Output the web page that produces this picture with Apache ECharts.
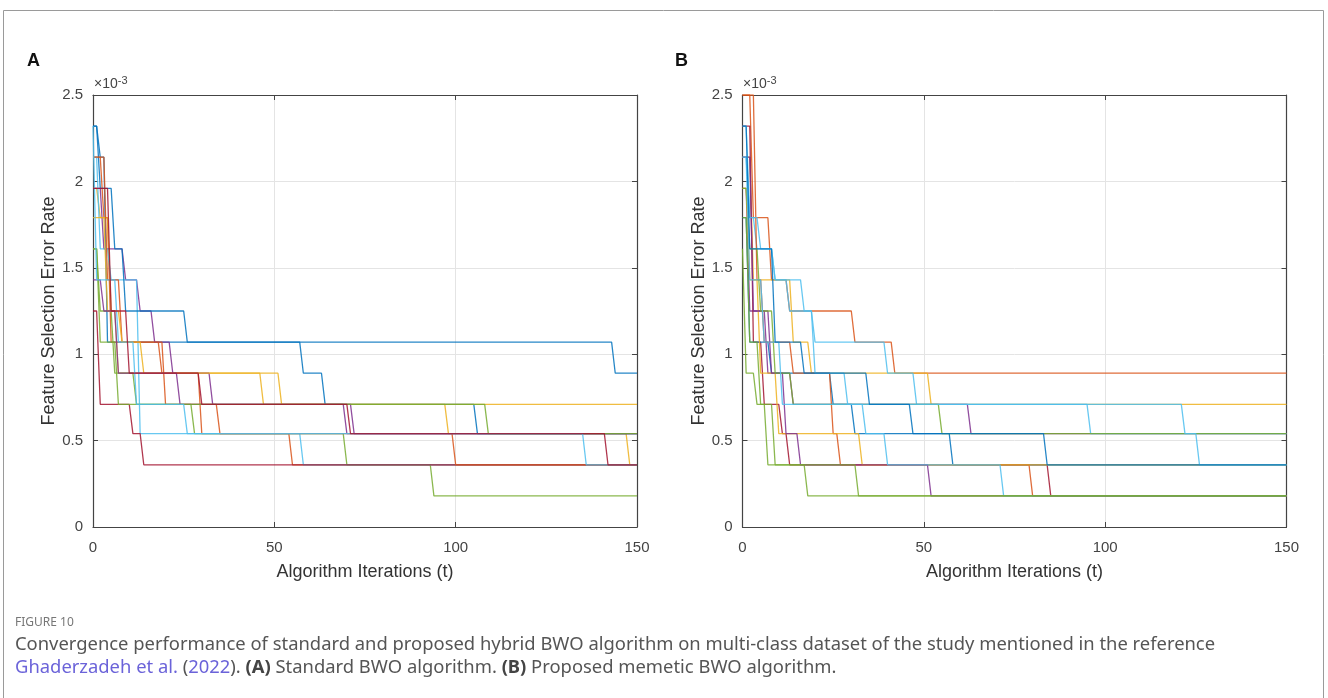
<!DOCTYPE html>
<html>
<head>
<meta charset="utf-8">
<script src="https://cdn.jsdelivr.net/npm/echarts@6/dist/echarts.min.js"></script>
<style>
  html, body { margin: 0; padding: 0; background: #fff; }
  #chart { width: 1328px; height: 698px; }
</style>
</head>
<body>
<div id="chart"></div>
<script>
// MATLAB default line colours
const C = {
  blue: "#0072BD", orange: "#D95319", yellow: "#EDB120", purple: "#7E2F8E",
  green: "#77AC30", cyan: "#4DBEEE", red: "#A2142F",
};

// Each run: list of [iteration, error rate x10^-3] where the value changes
const runsA = [
  [[0, 2.32], [2, 2.14], [4, 1.07], [144, 0.89]],
  [[0, 2.14], [3, 1.79], [5, 1.07], [19, 0.89], [30, 0.54], [55, 0.36]],
  [[0, 1.96], [2, 1.79], [5, 1.25], [7, 0.89], [47, 0.71], [98, 0.54], [148, 0.36]],
  [[0, 1.96], [3, 1.61], [9, 1.43], [13, 1.25], [17, 1.07], [22, 0.89], [33, 0.71], [70, 0.54]],
  [[0, 1.61], [2, 1.25], [6, 0.89], [12, 0.71], [28, 0.54], [70, 0.36], [94, 0.18]],
  [[0, 2.14], [2, 1.61], [5, 1.43], [13, 0.54], [58, 0.36]],
  [[0, 1.25], [2, 0.71], [11, 0.54], [14, 0.36]],
  [[0, 2.32], [2, 1.96], [6, 1.61], [9, 1.25], [26, 1.07], [58, 0.89], [64, 0.71], [106, 0.54]],
  [[0, 2.14], [4, 1.43], [8, 1.07], [20, 0.71], [35, 0.54], [100, 0.36]],
  [[0, 1.79], [4, 1.25], [8, 1.07], [14, 0.89], [52, 0.71]],
  [[0, 1.43], [3, 1.25], [7, 0.89], [24, 0.71], [72, 0.54]],
  [[0, 1.61], [2, 1.07], [7, 0.71], [109, 0.54]],
  [[0, 2.32], [1, 1.43], [7, 1.07], [12, 0.71], [26, 0.54], [136, 0.36]],
  [[0, 1.96], [5, 1.25], [10, 0.89], [30, 0.71], [71, 0.54], [142, 0.36]],
];
const colorsA = ["blue", "orange", "yellow", "purple", "green", "cyan", "red",
  "blue", "orange", "yellow", "purple", "green", "cyan", "red"];

const runsB = [
  [[0, 2.5], [3, 1.79], [8, 1.43], [13, 1.25], [31, 1.07], [42, 0.89]],
  [[0, 2.14], [3, 1.43], [14, 1.07], [19, 0.89], [52, 0.71]],
  [[0, 1.96], [2, 1.25], [7, 0.89], [14, 0.71], [63, 0.54]],
  [[0, 2.14], [2, 1.79], [4, 1.61], [9, 1.43], [17, 1.25], [20, 1.07], [40, 0.89], [48, 0.71], [96, 0.54]],
  [[0, 2.32], [3, 1.07], [6, 0.71], [11, 0.54], [13, 0.36], [85, 0.18]],
  [[0, 1.79], [2, 1.07], [8, 0.89], [25, 0.71], [31, 0.54], [58, 0.36]],
  [[0, 2.5], [4, 1.43], [6, 1.07], [14, 0.89], [25, 0.54], [27, 0.36], [80, 0.18]],
  [[0, 1.96], [2, 1.43], [5, 0.89], [10, 0.54], [33, 0.36]],
  [[0, 2.14], [3, 1.25], [8, 0.89], [12, 0.54], [16, 0.36], [52, 0.18]],
  [[0, 1.96], [2, 1.61], [5, 1.25], [9, 0.89], [14, 0.71], [55, 0.54]],
  [[0, 2.32], [2, 1.79], [5, 1.61], [9, 1.43], [13, 1.25], [20, 0.89], [29, 0.71], [34, 0.54], [40, 0.36], [72, 0.18]],
  [[0, 2.14], [2, 1.43], [6, 1.07], [11, 0.71], [122, 0.54], [126, 0.36]],
  [[0, 2.32], [2, 1.61], [9, 1.07], [17, 0.89], [35, 0.71], [47, 0.54], [84, 0.36]],
  [[0, 1.79], [2, 1.07], [5, 0.71], [9, 0.36], [32, 0.18]],
  [[0, 1.61], [1, 0.89], [4, 0.71], [7, 0.36], [18, 0.18]],
];
const colorsB = ["orange", "yellow", "purple", "cyan", "red", "blue", "orange",
  "yellow", "purple", "green", "cyan", "cyan", "blue", "green", "green"];

const maxIter = 150;
const panelNames = ["A", "B"];
const xName = "Algorithm Iterations (t)";
const yName = "Feature Selection Error Rate";

// turn change points into MATLAB-like polyline (value drops between t-1 and t)
function toLine(run) {
  const pts = [[run[0][0], run[0][1]]];
  for (let i = 1; i < run.length; i++) {
    pts.push([run[i][0] - 1, run[i - 1][1]]);
    pts.push([run[i][0], run[i][1]]);
  }
  pts.push([maxIter, run[run.length - 1][1]]);
  return pts;
}

const chart = echarts.init(document.getElementById("chart"));
const axisColor = "#444";
const font = "'Liberation Sans', Arial, sans-serif";
const capFont = "'Noto Sans', sans-serif";

const grids = [
  { left: 93, top: 95, width: 544, height: 432 },
  { left: 742.5, top: 95, width: 544, height: 432 },
];

const boxLine = { onZero: false, lineStyle: { color: axisColor, width: 1.2 } };
const tick = { show: true, inside: true, length: 5, lineStyle: { color: axisColor } };

const xAxes = [], yAxes = [], series = [];
grids.forEach((g, i) => {
  xAxes.push({
    type: "value", gridIndex: i, min: 0, max: maxIter, interval: 50,
    name: xName, nameLocation: "middle", nameGap: 36,
    nameTextStyle: { color: "#333", fontSize: 18, fontFamily: font },
    axisLine: boxLine, axisTick: tick,
    axisLabel: { color: axisColor, fontSize: 15, fontFamily: font, margin: 13 },
    splitLine: { show: true, lineStyle: { color: "#e4e4e4" } },
  });
  xAxes.push({
    type: "value", gridIndex: i, position: "top", min: 0, max: maxIter, interval: 50,
    axisLine: boxLine, axisTick: tick,
    axisLabel: { show: false }, splitLine: { show: false },
  });
  yAxes.push({
    type: "value", gridIndex: i, min: 0, max: 2.5, interval: 0.5,
    name: yName, nameLocation: "middle", nameGap: 33,
    nameTextStyle: { color: "#333", fontSize: 18, fontFamily: font },
    axisLine: Object.assign({ show: true }, boxLine), axisTick: tick,
    axisLabel: { color: axisColor, fontSize: 15, fontFamily: font, margin: 10 },
    splitLine: { show: true, lineStyle: { color: "#e4e4e4" } },
  });
  yAxes.push({
    type: "value", gridIndex: i, position: "right", min: 0, max: 2.5, interval: 0.5,
    axisLine: Object.assign({ show: true }, boxLine), axisTick: tick,
    axisLabel: { show: false }, splitLine: { show: false },
  });
});

[[runsA, colorsA], [runsB, colorsB]].forEach(([runs, cols], p) => {
  runs.forEach((run, k) => {
    series.push({
      type: "line",
      xAxisIndex: p * 2, yAxisIndex: p * 2,
      data: toLine(run),
      showSymbol: false, symbol: "none",
      lineStyle: { width: 1.3, color: C[cols[k]], opacity: 0.85 },
      z: 2,
    });
  });
});

const exponentText = (x) => ({
  type: "text", left: x, top: 75,
  style: {
    text: "×10{sup|-3}", fill: axisColor, fontSize: 14, fontFamily: font,
    rich: { sup: { fontSize: 11, fill: axisColor, fontFamily: font, verticalAlign: "top", padding: [0, 0, 7, 0] } },
  },
});

const option = {
  animation: false,
  grid: grids,
  xAxis: xAxes,
  yAxis: yAxes,
  series: series,
  graphic: [
    { type: "rect", shape: { x: 3.5, y: 10.5, width: 1320, height: 800 },
      style: { fill: "none", stroke: "#9a9a9a", lineWidth: 1 }, silent: true },
    { type: "text", left: 27, top: 52,
      style: { text: panelNames[0], fontSize: 18, fontWeight: "bold", fill: "#111", fontFamily: font } },
    { type: "text", left: 675, top: 52,
      style: { text: panelNames[1], fontSize: 18, fontWeight: "bold", fill: "#111", fontFamily: font } },
    exponentText(94),
    exponentText(743),
    { type: "text", left: 15, top: 617,
      style: { text: "FIGURE 10", fontSize: 12, fill: "#777", fontFamily: capFont } },
    { type: "text", left: 15, top: 636,
      style: {
        text: "Convergence performance of standard and proposed hybrid BWO algorithm on multi-class dataset of the study mentioned in the reference",
        fontSize: 18.4, fill: "#555", fontFamily: capFont,
      } },
    { type: "text", left: 15, top: 659,
      style: {
        text: "{link|Ghaderzadeh et al.} ({link|2022}). {b|(A)} Standard BWO algorithm. {b|(B)} Proposed memetic BWO algorithm.",
        fontSize: 18.4, fill: "#555", fontFamily: capFont,
        rich: {
          link: { fill: "#6b63d9", fontSize: 18.4, fontFamily: capFont },
          b: { fill: "#444", fontWeight: "bold", fontSize: 18.4, fontFamily: capFont },
        },
      } },
  ],
};

chart.setOption(option);
</script>
</body>
</html>
